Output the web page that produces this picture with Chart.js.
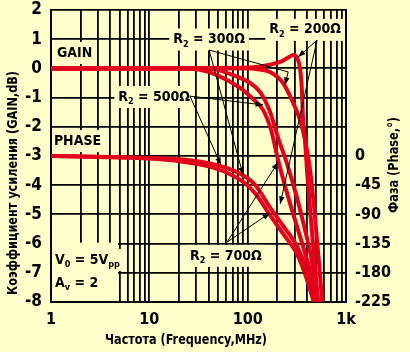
<!DOCTYPE html>
<html>
<head>
<meta charset="utf-8">
<script src="https://cdn.jsdelivr.net/npm/chart.js@4"></script>
<style>
  body { margin: 0; background: #ffffcc; }
  canvas { display: block; }
</style>
</head>
<body>
<canvas id="chart" width="410" height="352"></canvas>
<script>
const FONT = "'DejaVu Sans Condensed', 'Liberation Sans Narrow', sans-serif";
const BG = '#ffffcc';
const RED = '#e3001b';

// АЧХ (усиление, dB) для разных R2, частота в MHz
const freq200 = [1, 84, 134, 214, 258, 290, 318, 341, 356, 365, 383, 401, 440, 482, 520];
const gain200 = [0, 0.02, 0.07, 0.22, 0.37, 0.46, 0.36, 0, -0.74, -1.66, -2.45, -3.48, -5.19, -6.73, -8];
const freq300 = [1, 106, 134, 169, 229, 290, 341, 383, 431, 482, 528, 573];
const gain300 = [0, 0, -0.04, -0.12, -0.5, -1.18, -1.77, -2.45, -3.48, -5.02, -6.56, -8];
const freq500 = [1, 30, 48.8, 71, 106, 134, 169, 204, 250, 312, 383, 452, 520];
const gain500 = [0, 0, -0.05, -0.23, -0.5, -0.81, -1.49, -2.38, -3.24, -4.34, -5.53, -6.63, -8];
const freq700 = [1, 20, 32.8, 48.8, 83.7, 113.5, 143.5, 173, 204, 246, 303, 375, 442, 497];
const gain700 = [0, 0, -0.05, -0.23, -0.67, -1.05, -1.42, -2.11, -3.14, -4.16, -5.19, -6.22, -7.08, -8];

// ФЧХ (фаза, градусы)
const freqPhaseA = [1, 3, 10, 20, 40, 60, 90, 120, 170, 230, 320, 400, 490];
const phaseA = [0, -1, -3, -5, -11, -18, -30, -45, -80, -108, -140, -176, -225];
const freqPhaseB = [1, 3, 10, 20, 40, 60, 90, 120, 170, 230, 320, 400, 470];
const phaseB = [0, -1.5, -4, -8, -16, -25, -40, -58, -92, -120, -152, -190, -225];

// подписи осей
const xLabels = { 1: '1', 10: '10', 100: '100', 1000: '1k' };
const gainTicks = [2, 1, 0, -1, -2, -3, -4, -5, -6, -7, -8];
const phaseTicks = [0, -45, -90, -135, -180, -225];

let xGrid = [];
for (let e = 1; e <= 100; e *= 10) {
    for (let k = 1; k <= 9; k++) xGrid.push(k * e);
}
xGrid.push(1000);

function pts(fs, vs) {
    return fs.map((f, i) => ({ x: f, y: vs[i] }));
}

// надписи на поле графика: [текст, индекс?] в координатах (MHz, dB)
const notes = [
    { parts: [['GAIN', 0]], f: 1.15, v: 0.53, align: 'left' },
    { parts: [['PHASE', 0]], f: 1.07, v: -2.49, align: 'left' },
    { parts: [['R', 0], ['2', 1], [' = 300Ω', 0]], f: 40.5, v: 0.99, align: 'center' },
    { parts: [['R', 0], ['2', 1], [' = 200Ω', 0]], f: 384, v: 1.32, align: 'center' },
    { parts: [['R', 0], ['2', 1], [' = 500Ω', 0]], f: 11.2, v: -0.98, align: 'center' },
    { parts: [['R', 0], ['2', 1], [' = 700Ω', 0]], f: 60, v: -6.42, align: 'center' },
    { parts: [['V', 0], ['0', 1], [' = 5V', 0], ['pp', 1]], f: 1.1, v: -6.56, align: 'left' },
    { parts: [['A', 0], ['v', 1], [' = 2', 0]], f: 1.1, v: -7.35, align: 'left' }
];

// выноски со стрелками
const leaders = [
    [[40.5, 0.63], [258, -0.12], false],
    [[258, -0.12], [240, -0.57], true],
    [[40.5, 0.63], [89.8, -3.65], true],
    [[25.9, -0.95], [143.5, -1.25], true],
    [[25.9, -0.95], [53.6, -3.31], true],
    [[508, 0.97], [326, 0.39], true],
    [[508, 0.97], [214, -4.64], true],
    [[61.7, -5.95], [204, -3.21], true],
    [[61.7, -5.95], [169, -4.95], true]
];

const NOTE_FONT = 'bold 14px ' + FONT;
const SUB_FONT = 'bold 9px ' + FONT;

function partsWidth(c, parts) {
    let w = 0;
    parts.forEach(p => {
        c.font = p[1] ? SUB_FONT : NOTE_FONT;
        w += c.measureText(p[0]).width;
    });
    return w;
}

function noteBox(c, n, xs, ys) {
    const w = partsWidth(c, n.parts);
    const px = xs.getPixelForValue(n.f);
    const py = ys.getPixelForValue(n.v);
    const left = n.align === 'left' ? px : px - w / 2;
    return { left: left, top: py, w: w };
}

const decor = {
    id: 'decor',
    beforeDraw(chart) {
        const c = chart.ctx;
        c.save();
        c.fillStyle = BG;
        c.fillRect(0, 0, chart.width, chart.height);
        c.restore();
    },
    beforeDatasetsDraw(chart) {
        const c = chart.ctx, xs = chart.scales.x, ys = chart.scales.y;
        c.save();
        c.fillStyle = BG;
        // плашка V0 / Av закрывает сетку
        const bx = xs.getPixelForValue(1) + 1;
        c.fillRect(bx, ys.getPixelForValue(-5.97), xs.getPixelForValue(4.8) - bx, ys.getPixelForValue(-8) - ys.getPixelForValue(-5.97) - 1);
        notes.forEach(n => {
            const b = noteBox(c, n, xs, ys);
            let l = b.left - 4;
            if (l < bx) l = bx;
            c.fillRect(l, b.top - 11, b.left + b.w + 4 - l, 22);
        });
        c.restore();
    },
    afterDatasetsDraw(chart) {
        const c = chart.ctx, xs = chart.scales.x, ys = chart.scales.y;
        c.save();
        c.strokeStyle = '#000';
        c.fillStyle = '#000';
        c.lineWidth = 1;
        leaders.forEach(l => {
            const x1 = xs.getPixelForValue(l[0][0]), y1 = ys.getPixelForValue(l[0][1]);
            const x2 = xs.getPixelForValue(l[1][0]), y2 = ys.getPixelForValue(l[1][1]);
            c.beginPath();
            c.moveTo(x1, y1);
            c.lineTo(x2, y2);
            c.stroke();
            if (l[2]) {
                const a = Math.atan2(y2 - y1, x2 - x1);
                c.beginPath();
                c.moveTo(x2, y2);
                c.lineTo(x2 - 8 * Math.cos(a - 0.35), y2 - 8 * Math.sin(a - 0.35));
                c.lineTo(x2 - 8 * Math.cos(a + 0.35), y2 - 8 * Math.sin(a + 0.35));
                c.closePath();
                c.fill();
            }
        });
        c.textBaseline = 'middle';
        c.textAlign = 'left';
        notes.forEach(n => {
            const b = noteBox(c, n, xs, ys);
            let x = b.left;
            n.parts.forEach(p => {
                c.font = p[1] ? SUB_FONT : NOTE_FONT;
                c.fillText(p[0], x, b.top + (p[1] ? 5 : 0));
                x += c.measureText(p[0]).width;
            });
        });
        c.restore();
    },
    afterDraw(chart) {
        const c = chart.ctx;
        c.save();
        c.fillStyle = '#000';
        c.font = 'bold 14px ' + FONT;
        c.textAlign = 'center';
        c.textBaseline = 'middle';
        c.fillText('Частота (Frequency,MHz)', 186, 340, 162);
        c.translate(13, 183);
        c.rotate(-Math.PI / 2);
        c.fillText('Коэффициент усиления (GAIN,dB)', 0, 0, 224);
        c.restore();
        c.save();
        c.fillStyle = '#000';
        c.font = 'bold 14px ' + FONT;
        c.textAlign = 'center';
        c.textBaseline = 'middle';
        c.translate(394, 165);
        c.rotate(-Math.PI / 2);
        c.fillText('Фаза (Phase,°)', 0, 0, 96);
        c.restore();
    }
};

function line(data, axis) {
    return {
        data: data,
        yAxisID: axis,
        borderColor: RED,
        borderWidth: 4,
        pointRadius: 0,
        fill: false,
        cubicInterpolationMode: 'monotone'
    };
}

// убираем автоматические отступы шкал, чтобы поле было 51..346 x 10..302
function noPad(s) {
    s.paddingTop = 0;
    s.paddingBottom = 0;
    s.paddingLeft = 0;
    s.paddingRight = 0;
}

const ctx = document.getElementById('chart').getContext('2d');
const chart = new Chart(ctx, {
    type: 'line',
    data: {
        datasets: [
            line(pts(freqPhaseA, phaseA), 'yPhase'),
            line(pts(freqPhaseB, phaseB), 'yPhase'),
            line(pts(freq700, gain700), 'y'),
            line(pts(freq500, gain500), 'y'),
            line(pts(freq300, gain300), 'y'),
            line(pts(freq200, gain200), 'y')
        ]
    },
    options: {
        responsive: false,
        animation: false,
        layout: { autoPadding: false, padding: { top: 10, left: 0, right: 0, bottom: 0 } },
        plugins: { legend: { display: false }, tooltip: { enabled: false } },
        scales: {
            x: {
                type: 'logarithmic',
                min: 1,
                max: 1000,
                afterBuildTicks: s => { s.ticks = xGrid.map(v => ({ value: v })); },
                afterFit: s => { s.height = 50; noPad(s); },
                grid: { color: '#000', lineWidth: 1.8, drawTicks: false },
                border: { color: '#000', width: 2 },
                ticks: {
                    autoSkip: false,
                    maxRotation: 0,
                    padding: 8,
                    color: '#000',
                    font: { family: FONT, size: 16, weight: 'bold' },
                    callback: v => xLabels[v] || ''
                }
            },
            y: {
                position: 'left',
                min: -8,
                max: 2,
                afterBuildTicks: s => { s.ticks = gainTicks.map(v => ({ value: v })); },
                afterFit: s => { s.width = 51; noPad(s); },
                grid: { color: '#000', lineWidth: 1.8, drawTicks: false },
                border: { color: '#000', width: 2 },
                ticks: {
                    padding: 9,
                    color: '#000',
                    font: { family: FONT, size: 17, weight: 'bold' }
                }
            },
            yPhase: {
                position: 'right',
                min: -225,
                max: 225,
                afterBuildTicks: s => { s.ticks = phaseTicks.map(v => ({ value: v })); },
                afterFit: s => { s.width = 64; noPad(s); },
                grid: { display: false, drawTicks: false },
                border: { color: '#000', width: 2 },
                ticks: {
                    padding: 9,
                    color: '#000',
                    font: { family: FONT, size: 16, weight: 'bold' }
                }
            }
        }
    },
    plugins: [decor]
});
</script>
</body>
</html>
